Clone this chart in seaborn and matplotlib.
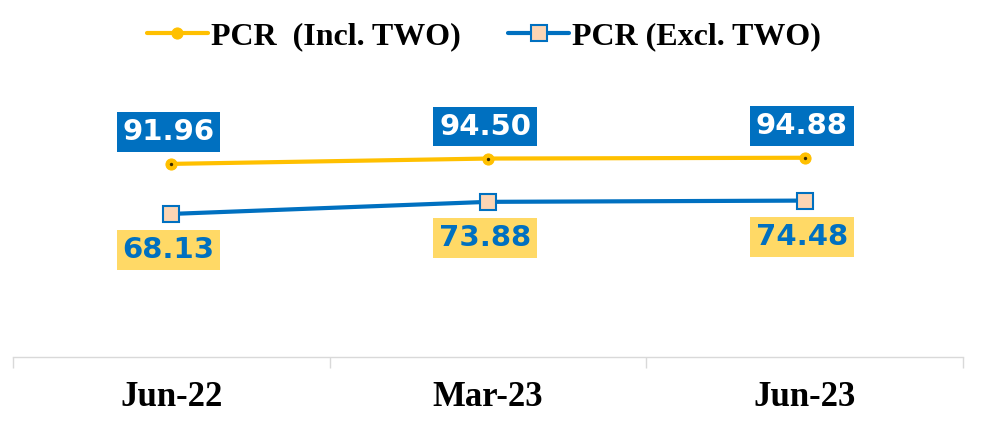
import matplotlib
matplotlib.use("Agg")
import matplotlib.pyplot as plt
import seaborn as sns
import pandas as pd

periods = ["Jun-22", "Mar-23", "Jun-23"]
pcr_incl_two = [91.96, 94.50, 94.88]
pcr_excl_two = [68.13, 73.88, 74.48]
series_names = ["PCR  (Incl. TWO)", "PCR (Excl. TWO)"]

gold = "#FFC000"
blue = "#0070C0"
label_yellow = "#FFD966"
peach = "#FCD5B4"

sns.set_theme(style="white")
plt.rcParams["font.family"] = ["DejaVu Sans"]
plt.rcParams["text.color"] = "black"

fig = plt.figure(figsize=(9.93, 4.42), dpi=100)
ax = fig.add_axes([13 / 993, (442 - 357) / 442, (963 - 13) / 993, (357 - 105) / 442])

df_incl = pd.DataFrame({"period": periods, "value": pcr_incl_two})
df_excl = pd.DataFrame({"period": periods, "value": pcr_excl_two})

sns.lineplot(data=df_incl, x="period", y="value", ax=ax, color=gold, linewidth=3,
             marker="o", markersize=8, markerfacecolor=gold, markeredgecolor=gold,
             label=series_names[0], sort=False)
sns.lineplot(data=df_excl, x="period", y="value", ax=ax, color=blue, linewidth=3,
             marker="s", markersize=11.5, markerfacecolor=peach, markeredgecolor=blue,
             markeredgewidth=1.5, label=series_names[1], sort=False)
# small dark centre dot on the gold markers
ax.scatter(range(len(periods)), pcr_incl_two, s=2, color="#3a2a00", zorder=5)

ax.set_xlim(-0.5, len(periods) - 0.5)
ax.set_ylim(0, 120)

# value labels
for i, v in enumerate(pcr_incl_two):
    ax.annotate(f"{v:.2f}", (i, v), xytext=(-2, 23), textcoords="offset points",
                ha="center", va="center", fontsize=21, fontweight="bold", color="white",
                bbox=dict(boxstyle="square,pad=0.2", fc=blue, ec="none"),
                annotation_clip=False)
for i, v in enumerate(pcr_excl_two):
    ax.annotate(f"{v:.2f}", (i, v), xytext=(-2, -26), textcoords="offset points",
                ha="center", va="center", fontsize=21, fontweight="bold", color=blue,
                bbox=dict(boxstyle="square,pad=0.2", fc=label_yellow, ec="none"),
                annotation_clip=False)

# axes styling: only a light baseline with category separators
for side in ["top", "right", "left"]:
    ax.spines[side].set_visible(False)
ax.spines["bottom"].set_color("#D9D9D9")
ax.spines["bottom"].set_linewidth(1)
ax.set_yticks([])
ax.set_xlabel("")
ax.set_ylabel("")
ax.set_xticks(range(len(periods)))
ax.set_xticklabels(periods, fontsize=25, fontweight="bold",
                   family=["Liberation Serif", "DejaVu Serif"], color="black")
ax.set_xticks([i - 0.5 for i in range(len(periods) + 1)], minor=True)
ax.tick_params(axis="x", which="major", length=0, pad=17)
ax.tick_params(axis="x", which="minor", length=8, width=1, color="#D9D9D9", bottom=True)

leg = ax.legend(loc="center", bbox_to_anchor=(484 / 993, 1 - 37 / 442),
                bbox_transform=fig.transFigure, ncol=2, frameon=False,
                prop=dict(family=["Liberation Serif", "DejaVu Serif"], weight="bold", size=23),
                handlelength=1.9, handletextpad=0.1, columnspacing=1.5)
for t in leg.get_texts():
    t.set_color("black")

fig.savefig("out.png", dpi=100, facecolor="white")
